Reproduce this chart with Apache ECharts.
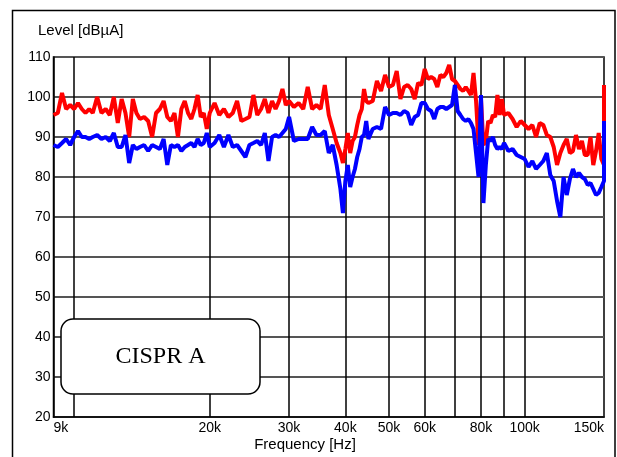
<!DOCTYPE html>
<html>
<head>
<meta charset="utf-8">
<script src="https://cdn.jsdelivr.net/npm/echarts@6/dist/echarts.min.js"></script>
<style>
  html, body { margin: 0; padding: 0; background: #fff; }
  #chart { width: 617px; height: 457px; }
</style>
</head>
<body>
<div id="chart"></div>
<script>
// scan frequencies in kHz
const freqKHz = [
  9.0, 9.2, 9.4, 9.6, 9.8, 10.0, 10.2, 10.4, 10.6, 10.8, 11.0,
  11.25, 11.5, 11.75, 12.0, 12.25, 12.5, 12.75, 13.0, 13.25, 13.5, 13.75, 14.0,
  14.3, 14.6, 14.9, 15.2, 15.5, 15.8, 16.1, 16.4, 16.7, 17.0, 17.3, 17.6, 17.9, 18.2, 18.5, 18.8, 19.1, 19.4, 19.7, 20.0,
  20.5, 21, 21.5, 22, 22.5, 23, 23.5, 24, 24.5, 25, 25.5, 26, 26.5, 27, 27.5, 28, 28.5, 29, 29.5, 30,
  30.75, 31.5, 32.25, 33, 33.75, 34.5, 35.25, 36, 36.75, 37.5, 38.25, 39,
  39.5, 40, 40.5, 41, 41.5, 42, 42.5, 43, 43.5, 44, 44.5, 45,
  46, 47, 48, 49, 50, 51, 52, 53, 54, 55, 56, 57, 58, 59, 60,
  61, 62, 63, 64, 65, 66, 67, 68, 69, 70, 71, 72, 73, 74, 75,
  76, 77, 78, 79, 80, 81, 82, 83, 84, 85, 86, 87, 88, 89, 90,
  92, 94, 96, 98, 100, 102, 104, 106, 108, 110, 112, 114, 116, 118, 120,
  122, 124, 126, 128, 130, 132, 134, 136, 138, 140, 142, 144, 146, 148, 150,
  150
];

// upper trace (red), dBuA
const levelRed = [
  95.5, 96, 101, 97, 98, 97, 98.5, 97, 96, 97, 96,
  100, 96, 97, 95.5, 100, 93.5, 99.5, 96, 90, 99.5, 96, 94.5,
  95, 94, 90, 96, 97, 99, 95, 94, 96, 90, 97, 99, 96, 94.5, 97, 100.5, 95, 96, 92, 96,
  98.5, 95.5, 97, 95, 96, 99, 94, 94.5, 95, 100.5, 95.5, 97, 99.5, 96, 99, 97, 99, 102, 98, 99,
  97.5, 98.5, 97, 102.5, 97, 98, 97, 103, 95.5, 92, 88.5, 86,
  83.5, 87, 91, 86, 89, 90, 93, 95.5, 97, 102, 99, 98.5,
  99, 104, 101.5, 105.5, 102.5, 103, 106.5, 99.5, 102.5, 103, 102, 99.5, 103.5, 103, 107,
  104.5, 105, 104.5, 102.5, 105.5, 105, 106, 108, 104.5, 104, 103, 102, 101.5, 102.5, 101.5,
  100.5, 106, 99, 88, 99.5, 88, 89, 94, 93.5, 95.5, 95, 100.5, 95.5, 99.5, 95.5,
  96, 94.5, 92.5, 94, 93, 92, 93, 90, 93.5, 93, 90.5, 90, 87.5, 83, 86,
  88, 89.5, 86, 86.5, 90.5, 87, 89, 85.5, 85.5, 90, 83, 86.5, 91, 84.5, 83,
  103
];

// lower trace (blue), dBuA
const levelBlue = [
  88, 87.5, 88.5, 89.5, 88, 90, 91.5, 90, 90, 89.5, 90,
  90.5, 89.5, 90, 89, 91, 87.5, 87.5, 90.5, 83.5, 88, 87, 87.5,
  88, 86.5, 88, 87.5, 87, 89.5, 83, 88, 87.5, 88, 86.5, 87.5, 88, 88.5, 87.5, 89.5, 88, 88.5, 91, 87.5,
  88.5, 90.5, 87.5, 90.5, 87.5, 88, 86.5, 85, 88, 88.5, 89, 88, 91, 84, 90, 90.5, 90, 91, 92, 95,
  89, 89.5, 89.5, 89.5, 92.5, 90.5, 90.5, 91.5, 86, 88, 83, 77,
  71, 79, 83, 77.5, 80, 82, 85, 87, 90, 90.5, 94, 89.5,
  92, 92.5, 92, 97.5, 95.5, 96, 96, 95.5, 96.5, 96, 93, 95, 95.5, 98.5, 98.5,
  97, 96.5, 94.5, 97, 97.5, 97.5, 97, 97.5, 98, 103, 96.5, 95.5, 94.5, 94, 94.5,
  93.5, 92, 86, 80, 100.5, 73.5, 83, 89.5, 89, 90, 88, 87, 87.5, 87, 88.5,
  86.5, 87, 85.5, 85, 84.5, 82.5, 84, 82, 83, 84, 86, 80.5, 79, 74, 70,
  80, 75.5, 79.5, 82, 80, 81, 80, 79.5, 78, 78.5, 77, 75.5, 76, 77.5, 79,
  94
];

const freqTicks = [9, 20, 30, 40, 50, 60, 80, 100, 150];
const freqGrid = [10, 20, 30, 40, 50, 60, 70, 80, 90, 100];

const pairs = vals => freqKHz.map((f, i) => [f, vals[i]]);

let myChart = echarts.init(document.getElementById('chart'), null, { renderer: 'canvas' });

let option = {
  animation: false,
  backgroundColor: '#fff',
  grid: {
    left: 53.5, right: 13, top: 57, bottom: 40,
    show: true, borderColor: '#000', borderWidth: 1.5
  },
  xAxis: {
    type: 'log',
    logBase: 10,
    min: 9,
    max: 150,
    axisLine: { show: true, lineStyle: { color: '#000', width: 1.5 } },
    axisTick: { show: false },
    splitLine: { show: false },
    axisLabel: {
      customValues: freqTicks,
      formatter: v => Math.round(v) + 'k',
      color: '#000',
      fontFamily: 'Liberation Sans',
      fontSize: 14,
      margin: 4,
      showMinLabel: true,
      showMaxLabel: true,
      alignMinLabel: 'left',
      alignMaxLabel: 'right'
    }
  },
  yAxis: {
    type: 'value',
    min: 20,
    max: 110,
    interval: 10,
    axisLine: { show: true, lineStyle: { color: '#000', width: 1.5 } },
    axisTick: { show: false },
    splitLine: { lineStyle: { color: '#555', width: 2 } },
    axisLabel: {
      color: '#000',
      fontFamily: 'Liberation Sans',
      fontSize: 14,
      margin: 3
    }
  },
  series: [
    {
      name: 'peak',
      type: 'line',
      data: pairs(levelRed),
      showSymbol: false,
      lineStyle: { color: '#ff0000', width: 4 },
      itemStyle: { color: '#ff0000' },
      markLine: {
        silent: true,
        symbol: 'none',
        z: 1,
        label: { show: false },
        lineStyle: { color: '#000', width: 1.5, type: 'solid' },
        data: freqGrid.map(f => ({ xAxis: f }))
      }
    },
    {
      name: 'average',
      type: 'line',
      data: pairs(levelBlue),
      showSymbol: false,
      lineStyle: { color: '#0000ff', width: 4 },
      itemStyle: { color: '#0000ff' }
    }
  ],
  graphic: [
    {
      type: 'rect', silent: true,
      shape: { x: 12.5, y: 10.5, width: 602.5, height: 470 },
      style: { fill: 'none', stroke: '#000', lineWidth: 1.5 }
    },
    {
      type: 'text', x: 38, y: 31,
      style: { text: 'Level [dBµA]', font: '15px "Liberation Sans"', fill: '#000', textVerticalAlign: 'middle' }
    },
    {
      type: 'text', x: 305, y: 445,
      style: { text: 'Frequency [Hz]', font: '15px "Liberation Sans"', fill: '#000', textAlign: 'center', textVerticalAlign: 'middle' }
    },
    {
      type: 'rect', z: 100,
      shape: { x: 61, y: 319, width: 199, height: 75, r: 12 },
      style: { fill: '#fff', stroke: '#000', lineWidth: 1.5 }
    },
    {
      type: 'text', z: 101, x: 160.5, y: 357,
      style: { text: 'CISPR A', font: '24px "Liberation Serif"', fill: '#000', textAlign: 'center', textVerticalAlign: 'middle' }
    }
  ]
};

myChart.setOption(option);
window.onresize = myChart.resize;
</script>
</body>
</html>
